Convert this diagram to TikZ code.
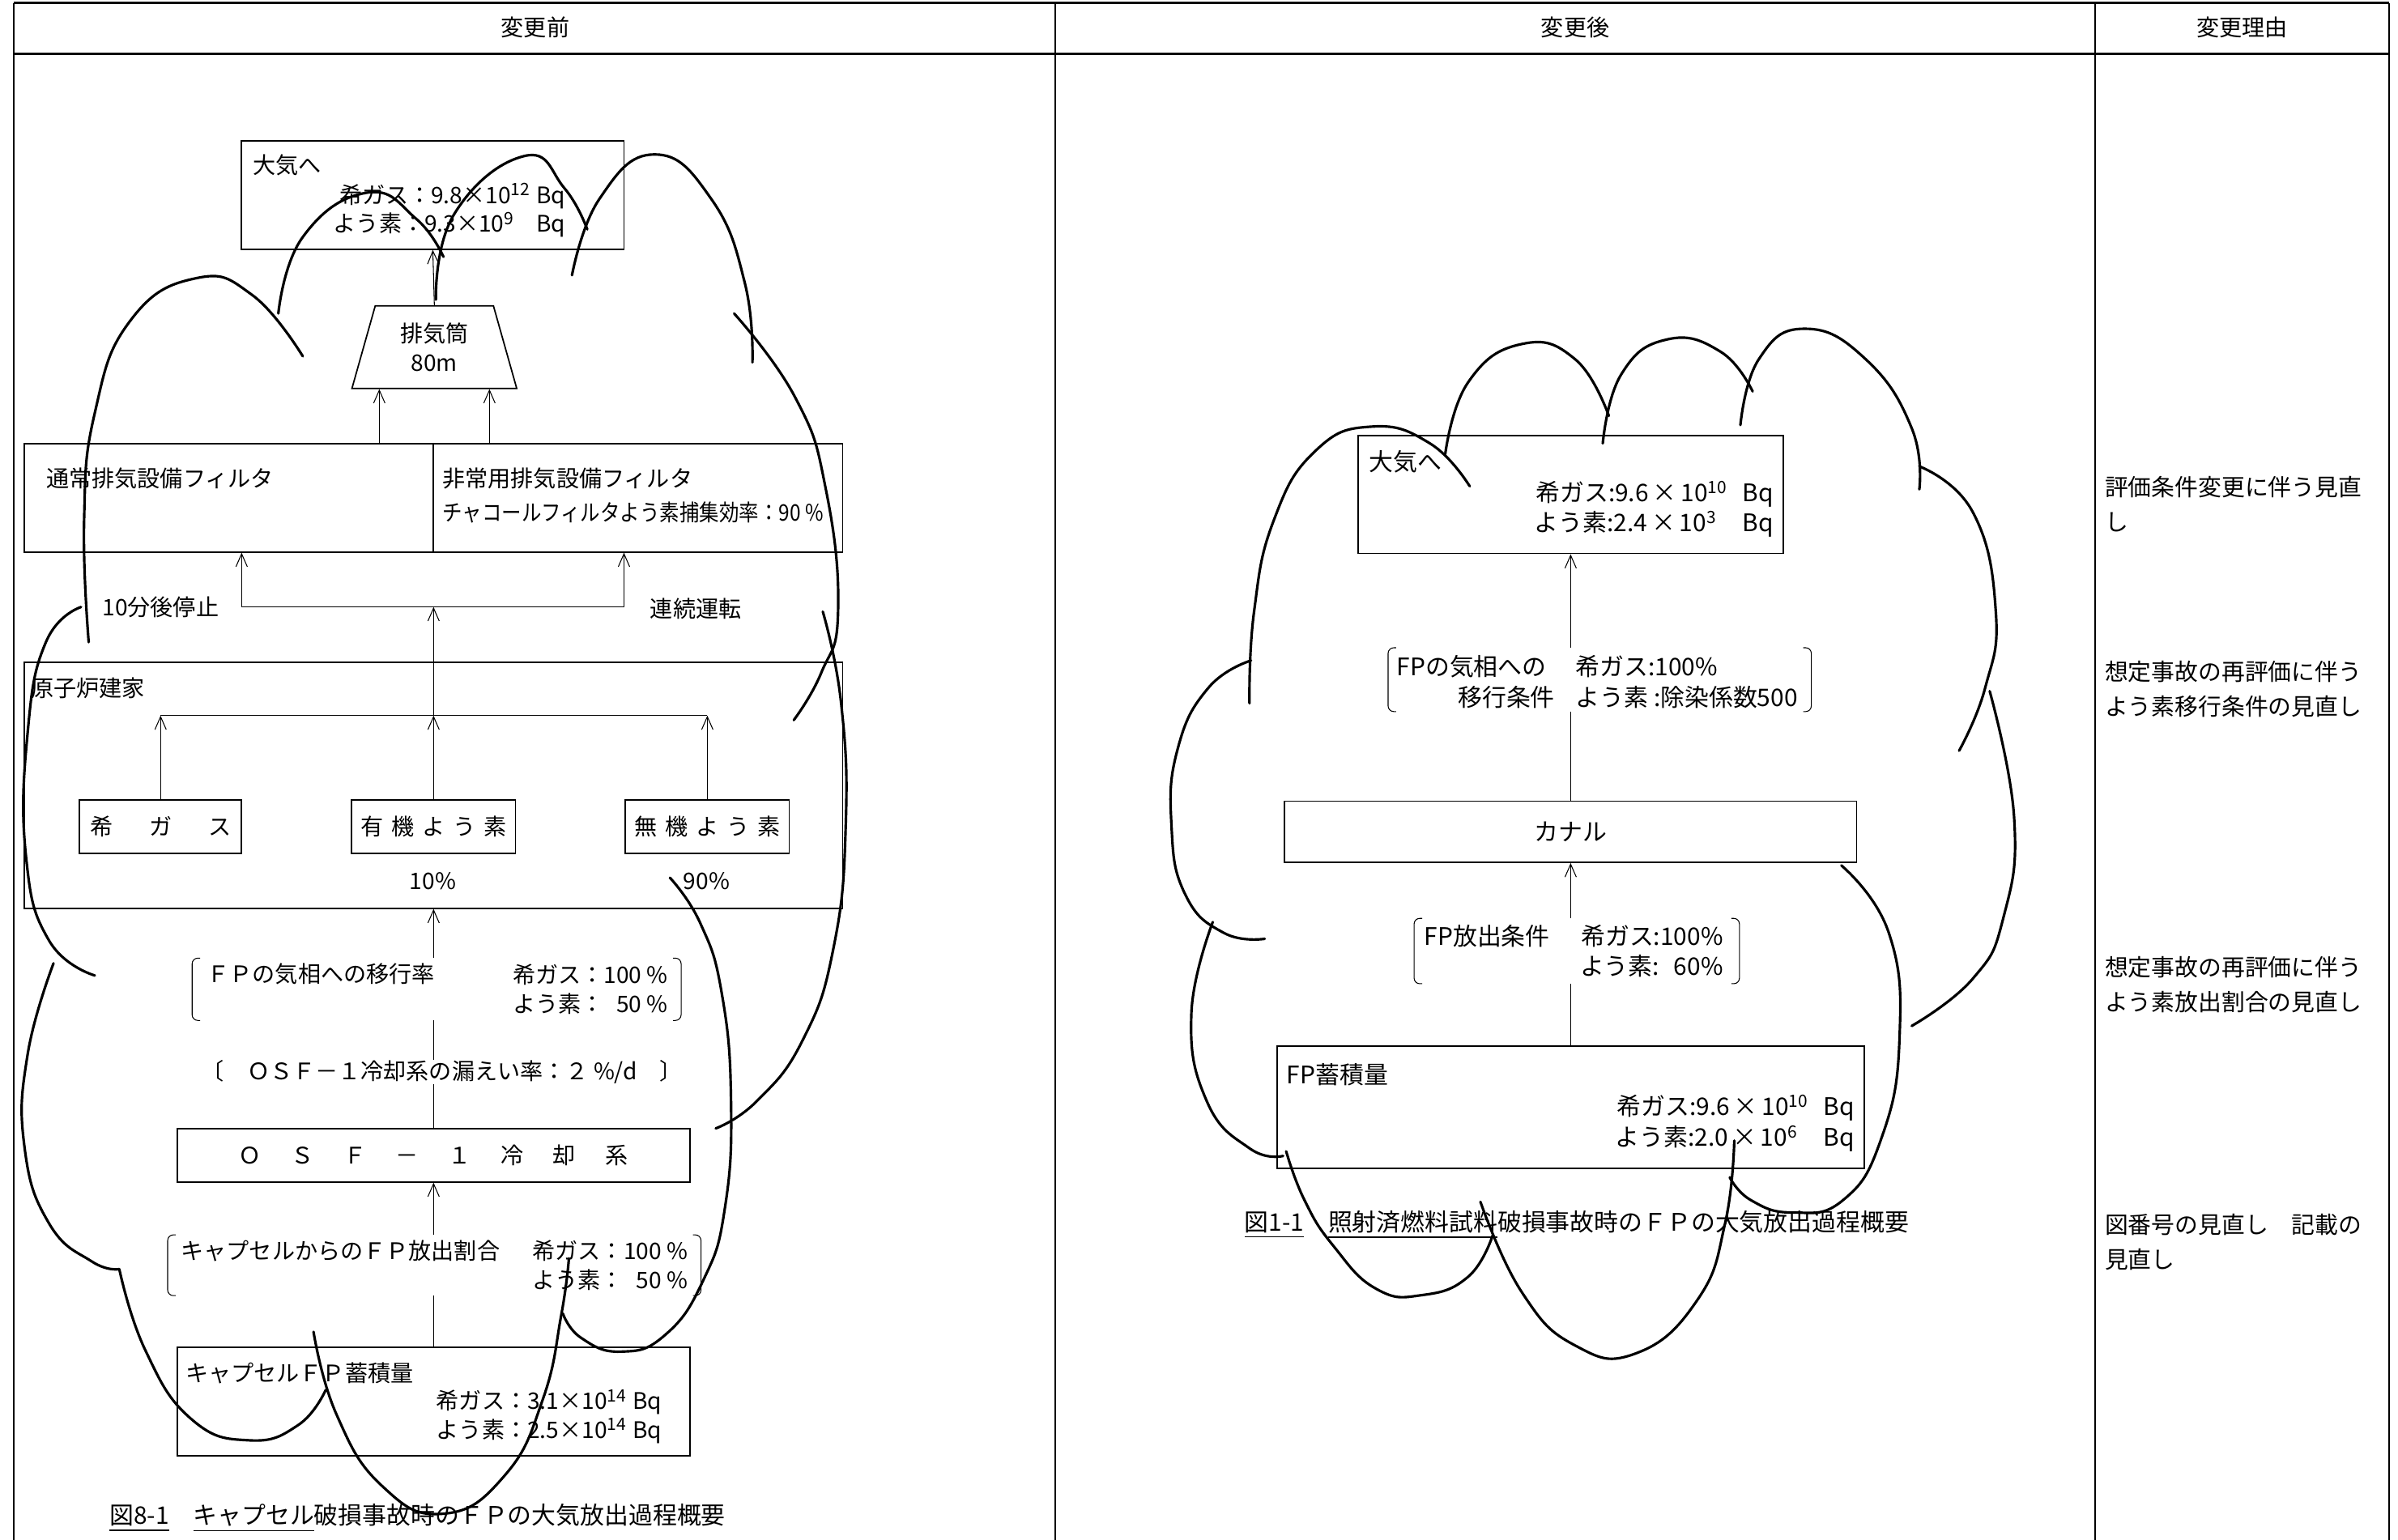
\documentclass[tikz,border=0pt]{standalone}
\usepackage{fontspec}
\usepackage{graphicx}
\setmainfont{Noto Sans CJK JP}
\usetikzlibrary{arrows.meta,positioning,fit,shapes.geometric}
\newcommand\chgap[1][.35em]{\hspace{#1}}
\newcommand\pw[1]{\textsuperscript{#1}}

\begin{document}
\begin{tikzpicture}[
  x=0.18884mm, y=-0.18884mm,
  rulebar/.style = {line width=0.9pt},
  colbar/.style  = {line width=0.6pt},
  box/.style     = {draw, line width=0.5pt, inner sep=0pt},
  gap/.style     = {inner sep=0pt},
  txt/.style     = {inner sep=0pt, font=\fontsize{8}{10.2}\selectfont},
  gtxt/.style    = {inner sep=0pt, font=\fontsize{8.5}{10.7}\selectfont},
  captxt/.style  = {inner sep=0pt, font=\fontsize{8.5}{10}\selectfont},
  note/.style    = {inner sep=0pt, align=left, anchor=west, font=\fontsize{8.2}{12.3}\selectfont},
  flow/.style    = {-{Straight Barb[length=1.6mm,width=1.4mm]}, line width=0.3pt},
  link/.style    = {line width=0.3pt},
  brk/.style     = {line width=0.3pt, rounded corners=0.7mm},
  cloud/.style   = {line width=0.9pt, line cap=round},
]
\useasboundingbox (0,0) rectangle (1568,1007);

% table frame
\draw[rulebar] (9,2) -- (1562,2);
\draw[rulebar] (9,35) -- (1562,35);
\foreach \cx in {9,690,1370,1562}
  \draw[colbar] (\cx,2) -- (\cx,1007);
\node[txt] (hdrOld) at (350,18) {変更前};
\node[txt] (hdrNew) at (1030,18) {変更後};
\node[txt] (hdrWhy) at (1466,18) {変更理由};

% ---- before: capsule failure
\node[box, fit={(158,92) (408,163)}] (atmL) {};
\node[txt, anchor=west] (atmLt) at (165,108) {大気へ};
\node[txt, anchor=east, align=right] (atmLv) at (370,137.5)
  {希ガス：9.8×10\pw{12} Bq\\よう素：9.3×10\pw{9}\phantom{\pw{2}}\ \ Bq};

\node[txt, draw, line width=0.5pt, trapezium, trapezium angle=74.5, trapezium stretches=true,
      minimum width=20.4mm, minimum height=10.2mm, align=center] (stack) at (284,227) {排気筒\\80m};
\draw[flow] (stack.north) -- (atmL.south);

\node[box, fit={(16,290) (551,361)}] (filtL) {};
\draw[box] (filtL.north) -- (filtL.south);
\node[txt, anchor=west] (normF) at (30,313) {通常排気設備フィルタ};
\node[txt, anchor=west] (emgF) at (289,313) {非常用排気設備フィルタ};
\node[txt, anchor=west] (emgFv) at (289,335) {\scalebox{0.87}[1]{チャコールフィルタよう素捕集効率：90 \%}};
\coordinate (ventA) at ([xshift=-6.7mm]filtL.north);
\coordinate (ventB) at ([xshift=6.9mm]filtL.north);
\draw[flow] (ventA) -- (ventA |- stack.south);
\draw[flow] (ventB) -- (ventB |- stack.south);

\coordinate (splitL) at (283.5,397);
\coordinate (stopL) at (158,397);
\coordinate (runL) at (408,397);
\draw[link] (stopL) -- (runL);
\draw[flow] (stopL) -- (stopL |- filtL.south);
\draw[flow] (runL) -- (runL |- filtL.south);
\node[txt] (stopLt) at (105,397) {10分後停止};
\node[txt] (runLt) at (455,398) {連続運転};

\node[box, fit={(16,433) (551,594)}] (rbL) {};
\node[txt, anchor=west] (rbLt) at (20,450) {原子炉建家};
\node[box, fit={(52,523) (158,558)}] (gasL) {};
\node[box, fit={(230,523) (337,558)}] (orgL) {};
\node[box, fit={(409,523) (516,558)}] (inoL) {};
\node[txt] (gasLt) at (gasL) {希\chgap[1.6em]ガ\chgap[1.6em]ス};
\node[txt] (orgLt) at (orgL) {有\chgap 機\chgap よ\chgap う\chgap 素};
\node[txt] (inoLt) at (inoL) {無\chgap 機\chgap よ\chgap う\chgap 素};
\coordinate (busL) at (283.5,468);
\coordinate (busLa) at (105,468);
\coordinate (busLb) at (462.5,468);
\draw[link] (busLa) -- (busLb);
\draw[flow] (gasL.north) -- (busLa);
\draw[flow] (orgL.north) -- (busL);
\draw[flow] (inoL.north) -- (busLb);
\draw[flow] (busL) -- (splitL);
\node[txt] (pctOrg) at (283,576) {10\%};
\node[txt] (pctIno) at (462,576) {90\%};

\node[gap, fit={(126,627) (445,667)}] (fpL) {};
\draw[brk] ([xshift=1mm]fpL.north west) -- (fpL.north west) -- (fpL.south west) -- ([xshift=1mm]fpL.south west);
\draw[brk] ([xshift=-1mm]fpL.north east) -- (fpL.north east) -- (fpL.south east) -- ([xshift=-1mm]fpL.south east);
\node[txt, anchor=west] (fpLt) at (135,637) {ＦＰの気相への移行率};
\node[txt, anchor=east, align=right] (fpLv) at (437,647) {希ガス：100 \%\\よう素：\phantom{1}50 \%};
\node[txt] (leakL) at (289,701) {〔　ＯＳＦ－１冷却系の漏えい率：２ \%/d　〕};
\node[box, fit={(116,738) (451,773)}] (osfL) {};
\node[txt] (osfLt) at (osfL)
  {Ｏ\chgap[1.3em]Ｓ\chgap[1.3em]Ｆ\chgap[1.3em]－\chgap[1.3em]１\chgap[1.3em]冷\chgap[1.3em]却\chgap[1.3em]系};
\draw[flow] (rbL.south |- fpL.north) -- (rbL.south);
\draw[link] (rbL.south |- leakL.north) -- (rbL.south |- fpL.south);
\draw[link] (osfL.north) -- (rbL.south |- leakL.south);

\node[gap, fit={(110,808) (458,847)}] (relL) {};
\draw[brk] ([xshift=1mm]relL.north west) -- (relL.north west) -- (relL.south west) -- ([xshift=1mm]relL.south west);
\draw[brk] ([xshift=-1mm]relL.north east) -- (relL.north east) -- (relL.south east) -- ([xshift=-1mm]relL.south east);
\node[txt, anchor=west] (relLt) at (118,818) {キャプセルからのＦＰ放出割合};
\node[txt, anchor=east, align=right] (relLv) at (450,827.5) {希ガス：100 \%\\よう素：\phantom{1}50 \%};
\node[box, fit={(116,881) (451,952)}] (capL) {};
\node[txt, anchor=west] (capLt) at (121,898) {キャプセルＦＰ蓄積量};
\node[txt, anchor=east, align=right] (capLv) at (433,926.5) {希ガス：3.1×10\pw{14} Bq\\よう素：2.5×10\pw{14} Bq};
\draw[flow] (osfL.south |- relL.north) -- (osfL.south);
\draw[link] (capL.north) -- (osfL.south |- relL.south);
\node[captxt] (capCapL) at (273,993) {\underline{図8-1}　\underline{キャプセル}破損事故時のＦＰの大気放出過程概要};

% ---- after: irradiated fuel sample failure
\node[box, fit={(888,285) (1166,362)}] (atmR) {};
\node[gtxt, anchor=west] (atmRt) at (895,302) {大気へ};
\node[gtxt, anchor=east, align=right] (atmRv) at (1160,333)
  {希ガス:9.6\,×\,10\pw{10}\hspace{.6em}Bq\\よう素:2.4\,×\,10\pw{3}\phantom{\pw{0}}\hspace{.6em}Bq};

\node[gap, fit={(908,424) (1184,465)}] (migR) {};
\draw[brk] ([xshift=1mm]migR.north west) -- (migR.north west) -- (migR.south west) -- ([xshift=1mm]migR.south west);
\draw[brk] ([xshift=-1mm]migR.north east) -- (migR.north east) -- (migR.south east) -- ([xshift=-1mm]migR.south east);
\node[gtxt, anchor=west] (migRt) at (913,436) {FPの気相への};
\node[gtxt, anchor=east] (migRt2) at (1017,456) {移行条件};
\node[gtxt, anchor=west, align=left] (migRv) at (1030,446) {希ガス:100\%\\よう素\ :除染係数500};

\node[box, fit={(840,524) (1214,564)}] (canal) {};
\node[gtxt] (canalT) at (canal) {カナル};

\node[gap, fit={(925,601) (1137,643)}] (relR) {};
\draw[brk] ([xshift=1mm]relR.north west) -- (relR.north west) -- (relR.south west) -- ([xshift=1mm]relR.south west);
\draw[brk] ([xshift=-1mm]relR.north east) -- (relR.north east) -- (relR.south east) -- ([xshift=-1mm]relR.south east);
\node[gtxt, anchor=west] (relRt) at (931,612) {FP放出条件};
\node[gtxt, anchor=east, align=right] (relRv) at (1127,622) {希ガス:100\%\\よう素:\hspace{.6em}60\%};

\node[box, fit={(835,684) (1219,764)}] (fpR) {};
\node[gtxt, anchor=west] (fpRt) at (841,703) {FP蓄積量};
\node[gtxt, anchor=east, align=right] (fpRv) at (1213,734.5)
  {希ガス:9.6\,×\,10\pw{10}\hspace{.6em}Bq\\よう素:2.0\,×\,10\pw{6}\phantom{\pw{0}}\hspace{.6em}Bq};

\draw[flow] (atmR.south |- migR.north) -- (atmR.south);
\draw[link] (canal.north) -- (atmR.south |- migR.south);
\draw[flow] (canal.south |- relR.north) -- (canal.south);
\draw[link] (fpR.north) -- (canal.south |- relR.south);
\node[captxt] (capCapR) at (1031,801) {\underline{図1-1}　\underline{照射済燃料試料}破損事故時のＦＰの大気放出過程概要};

% ---- reasons
\node[note] (why1) at (1376,329.5) {評価条件変更に伴う見直\\し};
\node[note] (why2) at (1376,450.5) {想定事故の再評価に伴う\\よう素移行条件の見直し};
\node[note] (why3) at (1376,644) {想定事故の再評価に伴う\\よう素放出割合の見直し};
\node[note] (why4) at (1376,812.5) {図番号の見直し　記載の\\見直し};

% ---- revision clouds (before)
\draw[cloud] plot[smooth, tension=0.8] coordinates {(58,420) (55,340) (62,270) (85,210) (128,182) (165,193) (198,233)};
\draw[cloud] plot[smooth, tension=0.8] coordinates {(182,205) (198,155) (240,126) (272,143) (290,168)};
\draw[cloud] plot[smooth, tension=0.8] coordinates {(285,196) (297,140) (343,102) (369,123) (384,150)};
\draw[cloud] plot[smooth, tension=0.8] coordinates {(374,180) (392,130) (428,101) (465,130) (487,185) (492,237)};
\draw[cloud] plot[smooth, tension=0.8] coordinates {(480,205) (520,260) (540,320) (548,400) (537,440) (519,471)};
\draw[cloud] plot[smooth, tension=0.8] coordinates {(538,400) (550,460) (553,540) (545,620) (525,680) (495,720) (468,738)};
\draw[cloud] plot[smooth, tension=0.8] coordinates {(438,574) (458,604) (472,650) (478,720) (474,790) (460,837) (435,873) (406,884) (380,875) (368,859)};
\draw[cloud] plot[smooth, tension=0.8] coordinates {(205,871) (220,925) (250,972) (290,990) (330,965) (355,915) (367,860) (372,823)};
\draw[cloud] plot[smooth, tension=0.8] coordinates {(78,830) (95,883) (125,928) (163,942) (195,932) (213,909)};
\draw[cloud] plot[smooth, tension=0.8] coordinates {(35,630) (18,690) (16,750) (32,800) (60,825) (78,830)};
\draw[cloud] plot[smooth, tension=0.8] coordinates {(53,397) (30,420) (18,480) (17,560) (32,615) (62,638)};

% ---- revision clouds (after)
\draw[cloud] plot[smooth, tension=0.8] coordinates {(961,318) (935,290) (897,279) (860,295) (833,340) (820,400) (817,460)};
\draw[cloud] plot[smooth, tension=0.8] coordinates {(945,297) (960,250) (995,225) (1030,235) (1052,272)};
\draw[cloud] plot[smooth, tension=0.8] coordinates {(1048,290) (1060,245) (1090,222) (1125,230) (1146,256)};
\draw[cloud] plot[smooth, tension=0.8] coordinates {(1138,278) (1150,235) (1180,215) (1220,235) (1250,280) (1255,320)};
\draw[cloud] plot[smooth, tension=0.8] coordinates {(1255,305) (1290,335) (1305,400) (1298,450) (1281,491)};
\draw[cloud] plot[smooth, tension=0.8] coordinates {(1301,452) (1317,535) (1310,600) (1290,640) (1250,671)};
\draw[cloud] plot[smooth, tension=0.8] coordinates {(1204,566) (1235,610) (1242,680) (1230,745) (1205,785) (1172,793) (1145,785) (1131,770)};
\draw[cloud] plot[smooth, tension=0.8] coordinates {(1134,746) (1128,800) (1110,850) (1070,885) (1030,880) (995,845) (968,786)};
\draw[cloud] plot[smooth, tension=0.8] coordinates {(976,808) (960,835) (930,847) (900,843) (872,815) (853,785) (841,753)};
\draw[cloud] plot[smooth, tension=0.8] coordinates {(793,603) (779,663) (789,720) (817,751) (839,756)};
\draw[cloud] plot[smooth, tension=0.8] coordinates {(818,432) (790,450) (770,490) (766,540) (775,585) (800,610) (827,614)};
\end{tikzpicture}
\end{document}
